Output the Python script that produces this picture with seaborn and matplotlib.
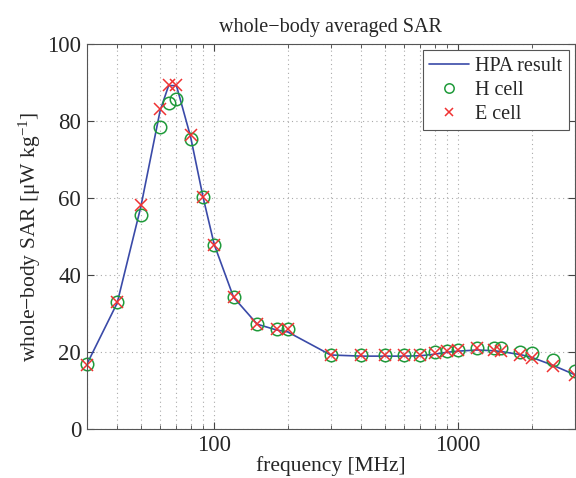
import numpy as np
import pandas as pd
import matplotlib
matplotlib.use('Agg')
import matplotlib.pyplot as plt
import seaborn as sns

# frequency points [MHz]
freq = [30, 40, 50, 60, 65, 70, 80, 90, 100, 120, 150, 180, 200, 300, 400, 500, 600,
        700, 800, 900, 1000, 1200, 1400, 1500, 1800, 2000, 2450, 3000]

hpa = [16.8, 32.8, 57.8, 82.8, 89.3, 89.3, 76.0, 60.3, 48.0, 34.3, 27.3, 25.8, 25.3, 19.3,
       19.0, 19.0, 19.0, 19.1, 19.5, 20.0, 20.3, 20.6, 20.4, 20.2, 19.4, 18.7, 16.6, 14.2]

h_cell = [16.9, 33.1, 55.8, 78.5, 84.7, 85.7, 75.4, 60.3, 48.0, 34.3, 27.3, 26.0, 26.0, 19.4,
          19.3, 19.3, 19.4, 19.4, 20.0, 20.4, 20.6, 21.0, 21.2, 21.0, 20.2, 19.7, 18.0, 15.2]

e_cell = [16.8, 33.0, 58.4, 83.2, 89.4, 89.4, 76.5, 60.3, 48.0, 34.3, 27.3, 26.0, 26.0, 19.3,
          19.2, 19.2, 19.3, 19.4, 19.9, 20.3, 20.6, 21.0, 20.5, 20.3, 19.4, 18.6, 16.4, 14.0]

df = pd.DataFrame({'freq': freq, 'hpa': hpa, 'h': h_cell, 'e': e_cell})

sns.set_style('ticks')
plt.rcParams['font.family'] = ['Liberation Serif', 'DejaVu Serif']
plt.rcParams['mathtext.fontset'] = 'custom'
plt.rcParams['mathtext.rm'] = 'Liberation Serif'
plt.rcParams['mathtext.it'] = 'Liberation Serif:italic'

fig = plt.figure(figsize=(5.76, 4.78), dpi=100)
ax = fig.add_axes([0.1505, 0.102, 0.847, 0.805])

green = '#1f9a3a'
red = '#f03232'

sns.lineplot(data=df, x='freq', y='hpa', ax=ax, color='#3a4aa8', linewidth=1.2,
             label='HPA result')
sns.lineplot(data=df, x='freq', y='h', ax=ax, linestyle='none', marker='o',
             markersize=9, markerfacecolor='none', markeredgecolor=green,
             markeredgewidth=1.1, color=green, label='H cell', clip_on=False)
sns.lineplot(data=df, x='freq', y='e', ax=ax, linestyle='none', marker='x',
             markersize=8, markeredgewidth=1.1, markeredgecolor=red, color=red,
             label='E cell', clip_on=False)

ax.set_xscale('log')
ax.set_xlim(30, 3000)
ax.set_ylim(0, 100)
ax.set_yticks([0, 20, 40, 60, 80, 100])
ax.set_xticks([100, 1000])
ax.set_xticklabels(['100', '1000'])

ax.grid(True, which='major', linestyle=(0, (1, 3)), color='#aaaaaa', linewidth=0.8)
ax.grid(True, which='minor', axis='x', linestyle=(0, (1, 3)), color='#aaaaaa', linewidth=0.8)
ax.tick_params(which='both', direction='in', top=True, right=True, labelsize=16.5,
               color='#444444', pad=4)
ax.tick_params(which='major', length=5)
ax.tick_params(which='minor', length=3)
for s in ax.spines.values():
    s.set_color('#555555')
    s.set_linewidth(0.8)

ax.set_title('whole\u2212body averaged SAR', fontsize=14.5, pad=9)
ax.set_xlabel('frequency [MHz]', fontsize=15.5, labelpad=0)
ax.set_ylabel('whole\u2212body SAR [\u03bcW kg$^{-1}$]', fontsize=15.5, labelpad=3)

leg = ax.legend(loc='upper right', fontsize=14.5, frameon=True, fancybox=False,
                edgecolor='#555555', framealpha=1, borderpad=0.3, labelspacing=0.25,
                handlelength=2.0, handletextpad=0.3, borderaxespad=0.3, markerscale=0.75)
leg.get_frame().set_linewidth(0.8)

fig.savefig('out.png', dpi=100)
